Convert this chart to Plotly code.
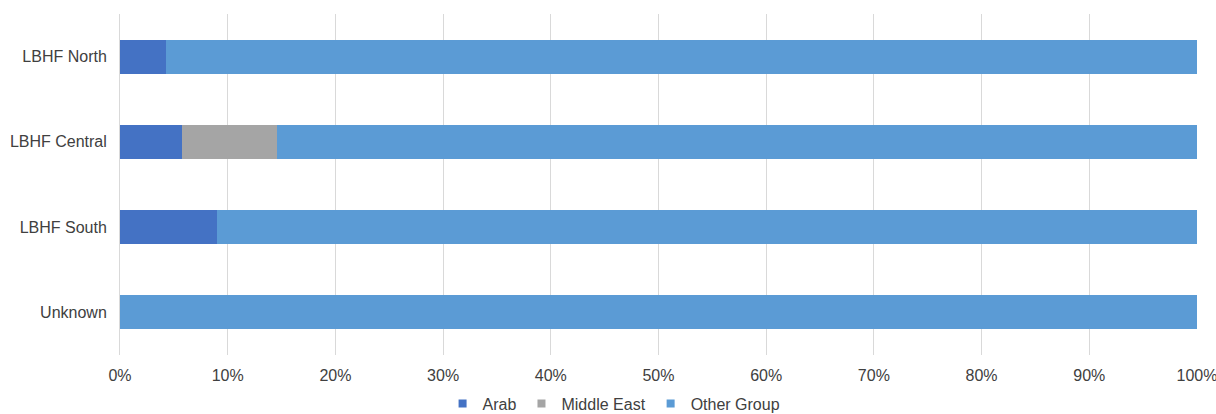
import plotly.graph_objects as go

categories = ["LBHF North", "LBHF Central", "LBHF South", "Unknown"]
arab = [4.3, 5.8, 9.0, 0.0]
middle_east = [0.0, 8.8, 0.0, 0.0]
other_group = [95.7, 85.4, 91.0, 100.0]
tick_vals = [0, 10, 20, 30, 40, 50, 60, 70, 80, 90, 100]
tick_text = [f"{v}%" for v in tick_vals]

series = [
    ("Arab", arab, "#4472C4"),
    ("Middle East", middle_east, "#A5A5A5"),
    ("Other Group", other_group, "#5B9BD5"),
]

fig = go.Figure()
for name, vals, color in series:
    fig.add_trace(go.Bar(
        y=categories, x=vals, name=name, orientation="h",
        marker=dict(color=color, line=dict(width=0)),
        showlegend=False,
    ))
for name, vals, color in series:
    fig.add_trace(go.Scatter(
        x=[None], y=[None], mode="markers", name=name,
        marker=dict(symbol="square", size=8, color=color),
    ))

fig.update_layout(
    width=1216, height=414,
    margin=dict(l=120, r=19, t=14, b=59, autoexpand=False),
    barmode="stack", bargap=0.6,
    plot_bgcolor="white", paper_bgcolor="white",
    font=dict(family="Liberation Sans", size=16, color="#404040"),
    xaxis=dict(
        range=[0, 100.001], tickvals=tick_vals, ticktext=tick_text,
        showgrid=True, gridcolor="#D9D9D9", gridwidth=1,
        zeroline=False, showline=False, ticks="", automargin=False,
        ticklabeloverflow="allow", ticklabelstandoff=9,
        tickfont=dict(size=16, color="#404040"),
    ),
    yaxis=dict(
        categoryorder="array", categoryarray=categories, autorange="reversed",
        showgrid=False, zeroline=False, showline=True, linecolor="#D9D9D9",
        ticks="", ticklabelstandoff=9, automargin=False,
        tickfont=dict(size=16, color="#404040"),
    ),
    legend=dict(
        orientation="h", xref="container", x=0.505, xanchor="center",
        yref="container", y=0.066, yanchor="top",
        bgcolor="rgba(0,0,0,0)",
        font=dict(size=16, color="#404040"), itemwidth=30,
        traceorder="normal",
    ),
)

fig.write_html("out.html")
